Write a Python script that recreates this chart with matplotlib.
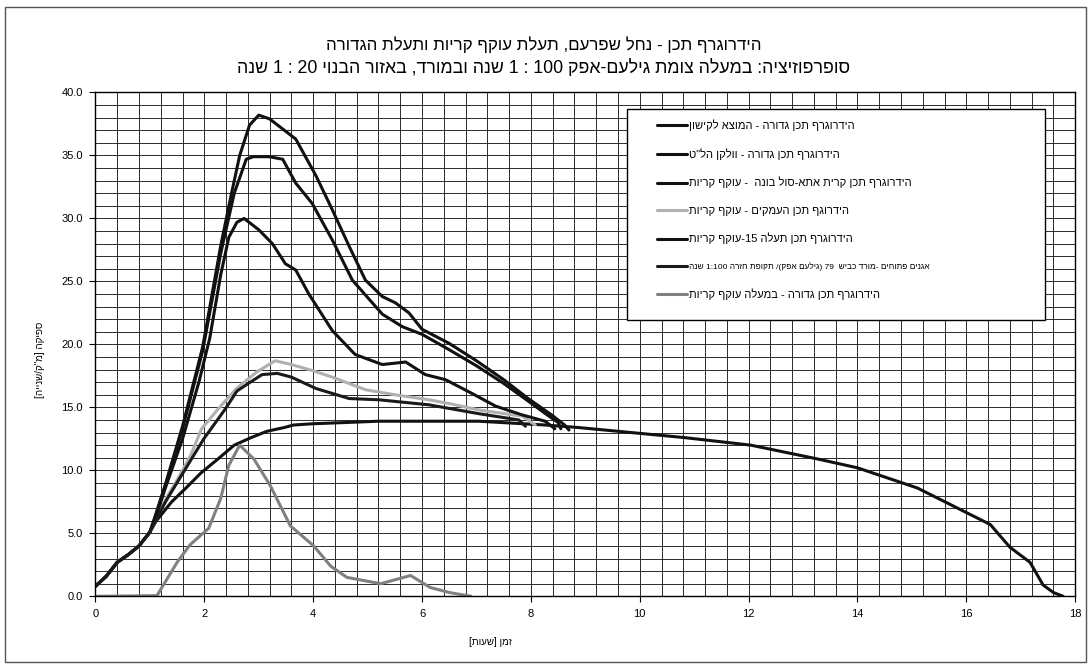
import re
import matplotlib
matplotlib.use("Agg")
import matplotlib.pyplot as plt
from matplotlib.ticker import MultipleLocator, FormatStrFormatter
from matplotlib.patches import Rectangle

plt.rcParams['font.family'] = ['Liberation Sans', 'DejaVu Sans']


def vis(s):
    # matplotlib has no bidi: reverse Hebrew, keep numbers LTR, mirror brackets
    r = s[::-1]
    r = re.sub(r'[0-9]+(?:[:.][0-9]+)*', lambda m: m.group(0)[::-1], r)
    return r.translate(str.maketrans('()[]', ')(]['))


# נתונים (נקראו מהגרף)
rise_x = [0, 0.2, 0.4, 0.6, 0.8, 1.0]
rise_y = [0.8, 1.6, 2.7, 3.3, 4.0, 5.1]

A_x = rise_x + [1.1, 1.3, 1.6, 1.97, 2.3, 2.5, 2.65, 2.83, 3.0, 3.2, 3.44, 3.68, 4.05, 4.35,
                4.66, 4.96, 5.27, 5.51, 5.76, 6.0, 6.49, 7.0, 7.5, 7.95, 8.38, 8.62, 8.7]
A_y = rise_y + [6.4, 9.1, 13.5, 19.8, 27.8, 32.0, 35.0, 37.4, 38.2, 37.9, 37.1, 36.3, 33.4, 30.7,
                27.8, 25.1, 23.8, 23.3, 22.5, 21.2, 20.1, 18.7, 17.2, 15.7, 14.4, 13.6, 13.2]

B_x = rise_x + [1.1, 1.3, 1.6, 1.97, 2.3, 2.55, 2.77, 2.9, 3.19, 3.44, 3.68, 3.98, 4.35, 4.72,
                5.27, 5.64, 6.0, 6.49, 7.0, 7.5, 7.95, 8.3, 8.5, 8.55]
B_y = rise_y + [6.3, 9.0, 13.3, 19.5, 27.2, 32.0, 34.7, 34.9, 34.9, 34.7, 32.8, 31.2, 28.3, 25.1,
                22.4, 21.4, 20.8, 19.6, 18.3, 16.9, 15.5, 14.4, 13.8, 13.3]

C_x = rise_x + [1.1, 1.3, 1.6, 1.9, 2.1, 2.3, 2.45, 2.6, 2.73, 3.0, 3.25, 3.49, 3.68, 3.92,
                4.35, 4.77, 5.27, 5.7, 6.06, 6.43, 6.92, 7.35, 7.84, 8.26, 8.44]
C_y = rise_y + [6.2, 8.8, 12.5, 17.0, 20.5, 25.5, 28.5, 29.7, 30.0, 29.1, 28.0, 26.4, 25.9, 24.0,
                21.1, 19.2, 18.4, 18.6, 17.6, 17.2, 16.1, 15.1, 14.4, 13.9, 13.3]

D_x = rise_x + [1.1, 1.3, 1.51, 1.75, 1.95, 2.26, 2.59, 2.96, 3.3, 3.6, 4.0, 4.35, 4.96, 5.5,
                6.13, 6.5, 7.04, 7.84, 8.08]
D_y = rise_y + [6.0, 7.8, 9.3, 11.2, 13.3, 14.9, 16.5, 17.8, 18.7, 18.4, 17.9, 17.4, 16.4, 16.0,
                15.6, 15.3, 14.8, 14.3, 13.6]

E_x = rise_x + [1.1, 1.3, 1.51, 1.75, 1.99, 2.39, 2.6, 2.81, 3.06, 3.34, 3.6, 4.05, 4.66, 5.21,
                6.13, 7.04, 7.78, 7.9]
E_y = rise_y + [6.0, 7.6, 9.1, 10.8, 12.5, 14.9, 16.3, 16.9, 17.6, 17.7, 17.4, 16.5, 15.7, 15.6,
                15.2, 14.5, 14.0, 13.5]

F_x = rise_x + [1.12, 1.4, 1.64, 1.94, 2.25, 2.55, 2.86, 3.15, 3.47, 3.64, 4.0, 4.62, 5.2, 6.15,
                7.04, 8.26, 8.87, 9.6, 10.82, 12.04, 13.27, 14.0, 15.1, 16.0, 16.44, 16.8,
                17.17, 17.41, 17.6, 17.78]
F_y = rise_y + [6.0, 7.5, 8.5, 9.8, 10.9, 12.0, 12.6, 13.1, 13.4, 13.6, 13.7, 13.8, 13.9, 13.9,
                13.9, 13.6, 13.4, 13.1, 12.6, 12.0, 10.9, 10.2, 8.6, 6.65, 5.7, 3.9,
                2.7, 0.9, 0.3, 0.0]

G_x = [0, 1.13, 1.5, 1.74, 2.08, 2.30, 2.45, 2.65, 2.91, 3.21, 3.58, 4.01, 4.32, 4.62, 5.24,
       5.79, 6.15, 6.5, 6.9]
G_y = [0, 0.05, 2.7, 4.1, 5.4, 7.75, 10.4, 12.0, 10.9, 8.8, 5.6, 4.0, 2.4, 1.5, 1.0,
       1.65, 0.7, 0.3, 0.0]

labels = [
    'הידרוגרף תכן גדורה - המוצא לקישון',
    'הידרוגרף תכן גדורה - וולקן הל"ט',
    'הידרוגרף תכן קרית אתא-סול בונה  - עוקף קריות',
    'הידרוגף תכן העמקים - עוקף קריות',
    'הידרוגרף תכן תעלה 15-עוקף קריות',
    'אגנים פתוחים -מורד כביש  79 (גילעם אפק)/ תקופת חזרה 1:100 שנה',
    'הידרוגרף תכן גדורה - במעלה עוקף קריות',
]
series = [(F_x, F_y), (A_x, A_y), (B_x, B_y), (D_x, D_y), (C_x, C_y), (E_x, E_y), (G_x, G_y)]
colors = ['#111111', '#111111', '#111111', '#b0b0b0', '#111111', '#1a1a1a', '#808080']

title1 = 'הידרוגרף תכן - נחל שפרעם, תעלת עוקף קריות ותעלת הגדורה'
title2 = 'סופרפוזיציה: במעלה צומת גילעם-אפק 100 : 1 שנה ובמורד, באזור הבנוי 20 : 1 שנה'

fig = plt.figure(figsize=(10.91, 6.70), dpi=100)
ax = fig.add_axes([0.0875, 0.110, 0.898, 0.752])

for (x, y), c, lab in zip(series, colors, labels):
    ax.plot(x, y, color=c, lw=2.2, label=vis(lab), solid_capstyle='round')

ax.set_xlim(0, 18)
ax.set_ylim(0, 40)
ax.xaxis.set_major_locator(MultipleLocator(2))
ax.xaxis.set_minor_locator(MultipleLocator(0.4))
ax.yaxis.set_major_locator(MultipleLocator(5))
ax.yaxis.set_minor_locator(MultipleLocator(1))
ax.yaxis.set_major_formatter(FormatStrFormatter('%.1f'))
ax.grid(True, which='both', color='#2a2a2a', lw=0.7)
ax.set_axisbelow(True)
ax.tick_params(labelsize=8, length=4, pad=5)
ax.tick_params(which='minor', length=0)
for s in ax.spines.values():
    s.set_color('black')
    s.set_linewidth(1.0)

ax.set_xlabel(vis('זמן [שעות]'), fontsize=7)
ax.xaxis.set_label_coords(0.403, -0.08)
ax.set_ylabel(vis('ספיקה [מ"ק/שנייה]'), fontsize=7)
ax.yaxis.set_label_coords(-0.052, 0.47)

fig.text(0.498, 0.933, vis(title1), ha='center', va='center', fontsize=12.2)
fig.text(0.498, 0.899, vis(title2), ha='center', va='center', fontsize=12.8)

# legend box (white, black edge) + frameless legend on it
ax.add_patch(Rectangle((0.5425, 0.548), 0.4266, 0.4188, transform=ax.transAxes,
                       facecolor='white', edgecolor='black', lw=1.0, zorder=4))
leg = ax.legend(loc='upper left', bbox_to_anchor=(0.573, 0.947), frameon=False,
                fontsize=8, labelspacing=1.55, handlelength=2.7, handletextpad=0.2,
                borderpad=0, borderaxespad=0)
leg.get_texts()[5].set_fontsize(6.0)
leg.set_zorder(5)

fig.patches.append(Rectangle((0.005, 0.012), 0.99, 0.978, transform=fig.transFigure,
                             fill=False, edgecolor='#555555', lw=1.0))

fig.savefig('out.png', dpi=100)
